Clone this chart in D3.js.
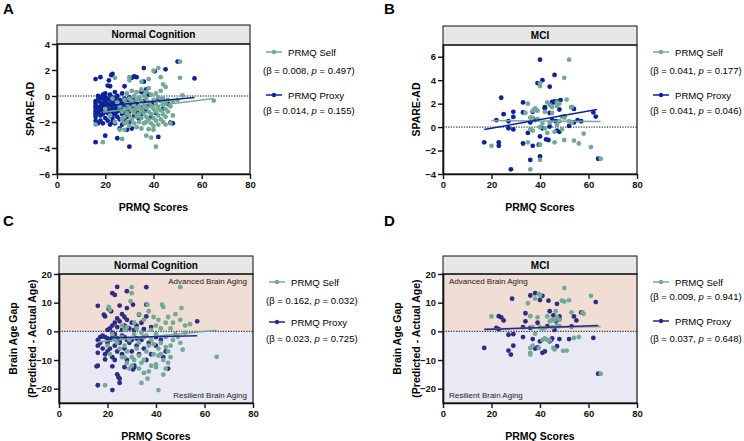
<!DOCTYPE html>
<html><head><meta charset="utf-8">
<script src="https://cdn.jsdelivr.net/npm/d3@7"></script>
<style>body{margin:0;background:#fff} text{font-family:"Liberation Sans",Arial,Helvetica,sans-serif}</style>
</head><body><svg id="c" width="744" height="441"></svg>
<script>
// ---------------- DATA ----------------
const xTicks = [0, 20, 40, 60, 80];
const yTicksA = [-6, -4, -2, 0, 2, 4];
const yTicksB = [-4, -2, 0, 2, 4, 6];
const yTicksGap = [-20, -10, 0, 10, 20];
const panelLetters = ["A", "B", "C", "D"];
const panelTitles = ["Normal Cognition", "MCI", "Normal Cognition", "MCI"];
const seriesNames = ["PRMQ Self", "PRMQ Proxy"];
const xTitle = "PRMQ Scores";
const yTitleSpare = ["SPARE-AD"];
const yTitleGap = ["Brain Age Gap", "(Predicted - Actual Age)"];
const zoneLabels = ["Advanced Brain Aging", "Resilient Brain Aging"];
const statsA = [["0.008", "0.497"], ["0.014", "0.155"]];
const statsB = [["0.041", "0.177"], ["0.041", "0.046"]];
const statsC = [["0.162", "0.032"], ["0.023", "0.725"]];
const statsD = [["0.009", "0.941"], ["0.037", "0.648"]];

const A_proxy = [[16,1.3],[18,1.45],[22.5,1.6],[23,1.7],[21.5,1.2],[21,0.8],[22,0.75],[20,0.2],[19,0.1],[17,0.0],[28,0.75],[31,1.4],[32,1.5],[33,1.45],[36,1.1],[36,2.15],[40.5,1.9],[45,2.05],[50,2.65],[57,1.35],[37,0.5],[35,0.3],[38,0.1],
[16,-0.4],[16,-0.6],[16,-0.8],[16,-1.0],[16,-1.2],[16,-1.4],[16,-1.6],[16,-1.9],[16,-3.55],
[17,-0.3],[17,-0.9],[17,-1.3],[17,-2.1],
[18,-0.1],[18,-0.5],[18,-0.8],[18,-1.1],[18,-1.5],[18,-1.9],
[19,-0.2],[19,-0.6],[19,-1.0],[19,-1.4],[19,-2.1],
[20,-0.1],[20,-0.4],[20,-0.8],[20,-1.2],[20,-1.7],[20,-3.05],
[21,-0.2],[21,-0.6],[21,-1.0],[21,-1.3],[21,-1.9],
[22,0.1],[22,-0.3],[22,-0.7],[22,-1.1],[22,-1.5],[22,-2.2],
[23,-0.1],[23,-0.5],[23,-0.9],[23,-1.3],[23,-1.7],[23,-2.0],
[24,0.3],[24,-0.2],[24,-0.6],[24,-1.0],[24,-1.4],[24,-2.1],
[25,0.0],[25,-0.4],[25,-0.8],[25,-1.2],[25,-1.6],[25,-3.25],
[26,-0.3],[26,-0.7],[26,-1.1],[26,-1.8],[26,-2.5],
[27,0.2],[27,-0.5],[27,-0.9],[27,-1.4],[27,-2.2],
[28,-0.2],[28,-0.8],[28,-1.3],[28,-1.9],
[29,-0.4],[29,-1.0],[29,-1.6],[29,-2.6],
[30,-0.1],[30,-0.7],[30,-1.2],[30,-2.0],[30,-3.9],
[31,-0.5],[31,-1.0],[31,-2.5],[32,-0.3],[32,-0.9],[32,-1.5],[33,-0.6],[33,-1.2],[34,-0.2],[34,-1.8],
[35,-0.9],[35,-1.4],[36,-0.4],[37,-1.1],[38,-0.7],[39,-1.6],[40,-0.5],[41,-1.3],[42,-3.15],[42,-0.2],[44,-1.0],[47,-2.05],[48,-2.1],[46,-0.6]];
const A_self = [[16,-2.2],[19,-3.55],[24,1.4],[27,-3.3],[26,-2.6],[28,-2.6],[30,1.45],[30,1.2],[35,1.1],[38,1.3],[42,2.15],[43,1.45],[40,1.95],[44,0.9],[45,0.7],[51,2.65],[51,1.4],[52,0.05],[65,-0.35],[37,-3.05],[39,-3.2],[41,-3.9],[38,-2.55],[40,-2.6],[47,-2.1],[44,-2.0],
[26,-0.8],[27,-1.2],[27,-1.8],[28,-0.3],[28,-1.0],[28,-1.6],[28,-2.1],[29,0.2],[29,-0.6],[29,-1.3],[29,-2.0],
[30,-0.2],[30,-0.9],[30,-1.5],[30,-2.3],[31,0.4],[31,-0.4],[31,-1.1],[31,-1.8],[32,0.0],[32,-0.7],[32,-1.3],[32,-2.1],
[33,0.3],[33,-0.3],[33,-1.0],[33,-1.6],[33,-2.4],[34,-0.1],[34,-0.8],[34,-1.4],[34,-2.0],
[35,0.5],[35,-0.4],[35,-1.1],[35,-1.7],[35,-2.5],[36,0.0],[36,-0.7],[36,-1.3],[36,-2.1],
[37,0.3],[37,-0.2],[37,-0.9],[37,-1.6],[37,-2.0],[38,-0.5],[38,-1.2],[38,-1.8],[38,0.6],
[39,0.1],[39,-0.8],[39,-1.4],[39,-2.1],[40,-0.3],[40,-1.0],[40,-1.7],[40,-2.3],
[41,0.2],[41,-0.6],[41,-1.2],[41,-1.9],[42,-0.1],[42,-0.9],[42,-1.5],[42,-2.2],
[43,0.4],[43,-0.4],[43,-1.1],[43,-1.8],[44,-0.2],[44,-0.7],[44,-1.4],
[45,-0.5],[45,-1.0],[45,-1.6],[45,-2.2],[46,-0.3],[46,-1.2],[47,-0.8],[48,-0.4],[48,-1.5],[50,-0.3],
[20,-1.0],[22,-1.5],[24,-2.0],[25,-0.5],[23,-0.2]];
const A_fitSelf = [[19,-1.25],[65,-0.2]];
const A_fitProxy = [[16,-0.83],[57,-0.12]];

const B_proxy = [[40,5.75],[41,4.0],[39,3.75],[46,4.45],[44,3.45],[24,2.5],[33,2.1],[37,1.3],[42,1.7],[29,1.3],[29,0.87],[25,1.1],[22,0.6],[27,0.5],[27,-0.1],[29,-0.2],[33,1.25],[17,-1.3],[23,-1.3],[23,-1.6],[33,-1.4],[35,-0.5],[37,-1.6],[39.5,-1.5],[40,-0.8],[36,-2.8],[40,-2.5],[28,-3.6],[42.5,-1.05],[43.5,-1.1],[46.5,0.5],[47.5,2.2],[45.5,2.1],[48.5,2.3],[44,1.2],[45,2.15],[52,0.1],[54,0.4],[55.5,0.6],[53,1.7],[54,1.55],[62,1.25],[63,0.9],[64,-2.7],[44,0.05],[47,-0.3],[48,-0.4],[45,0.6],[41,-0.1],[38,0.6],[36,0.4],[48,1.5],[50,0.9],[46,2.2],[42,1.6],[57,0.5]];
const B_self = [[52,5.75],[50,4.2],[40,3.5],[40,3.75],[35,2.0],[38,1.6],[37,1.4],[36,0.8],[43,2.1],[44,1.9],[47,1.8],[51,2.35],[53,1.7],[20,-1.6],[35,-1.3],[37,-0.3],[40,-1.5],[36,-3.6],[40,-2.8],[46,-1.3],[50,-1.1],[54,-1.15],[56,-1.4],[58,-0.55],[61,-1.7],[65,-2.7],[43,-0.5],[39,0.7],[42,1.3],[45,1.2],[48,0.5],[49,0.9],[46,-0.4],[41,0.3],[38,1.5],[39,1.4],[47,0.2],[44,0.4],[50,0.8],[52,0.5],[34,1.2],[48,2.0],[53,0.4],[47,2.1],[45,1.7],[42,-0.1],[36,-0.2],[40,0.0],[49,-0.2],[37,0.8]];
const B_fitSelf = [[20,0.56],[65,0.48]];
const B_fitProxy = [[17,-0.21],[63.5,1.5]];

const C_proxy = [[24,15.5],[36,15.4],[22,13.3],[23,12.7],[28,14],[30.5,9.3],[36,9.3],[16,8.9],[20.5,7.8],[21.5,7.0],[28,8.1],[18.5,5.8],[19,5.2],[33,5.8],[36,5.2],[57,3.5],[25,9],[26,6],[24,4.5],[25,3.5],[22,2],[23,3],[20,0.5],[21,1],[27,5],[27,2],[28,4],[29,1],[30,3],[31,0.5],[32,2],[34,3],[35,0.8],[38,1.5],[24,1.5],[26,0.5],[22,-0.5],[18,-1.5],[19,-2],[20,-2.5],[21,-3],[22,-2],[23,-1],[24,-2.5],[25,-3.5],[26,-1.5],[27,-2],[28,-3],[16,-3],[16,-5],[16,-7.5],[17,-2],[17,-4],[18,-6],[19,-8],[20,-4],[21,-6],[22,-9],[23,-5],[24,-7],[25,-4],[26,-8],[27,-6],[28,-10],[29,-4],[30,-7],[31,-12],[32,-5],[33,-8],[34,-3],[35,-6],[36,-10],[37,-4],[38,-8],[40,-5],[42,-3],[43,-9],[44,-7],[45,-13],[16,-18.8],[22,-20.5],[25,-18],[25,-16.5],[15.5,-12.2],[16,-12],[19,-9.8],[22,-12.2],[24,-15],[24.5,-16],[30.5,-13.3],[31,-12.5],[30,-3],[32,-2.5],[35,-2],[40,-2],[27,-12.5],[23,-10],[20,-7]];
const C_self = [[19,-18.8],[34,-18],[41,-20.5],[36.5,-16.5],[43,-15.1],[44,-13],[65,-8.9],[51,-6.4],[50.5,8.1],[50,4],[52,2],[54,2.5],[42.5,9.3],[43,8.5],[36.5,9.3],[20.5,8.5],[21,7.5],[30,13.3],[30,15.4],[50,15.4],[29.5,10.5],[33,6],[35,4],[37,7],[39,5],[40,2],[41,4],[44,3],[45,5],[46,1],[47,3],[48,6],[42,1],[31,3],[32,1],[26,2],[27,0.5],[28,1.5],[38,0.5],[26,-2],[27,-5],[28,-7],[29,-3],[30,-9],[31,-1],[32,-6],[33,-4],[34,-11],[35,-2],[36,-7],[37,-5],[38,-3],[39,-8],[40,-1],[41,-6],[42,-4],[43,-10],[44,-2],[45,-7],[46,-5],[47,-3],[48,-1],[49,-2],[38,-12],[40,-11.5],[35,-10],[33,-13],[30,-12],[28,-11],[26,-9],[25,-6],[24,-4],[23,-3],[22,-1],[21,-8],[20,-5],[36,-1.5],[34,-0.5],[39,-4.5],[42,-8],[44,-5.5],[46,-9],[37,-14],[29,-13],[31,-10],[33,-8.5],[35,-14.5],[27,-9],[40,-12.5],[41,-8.5],[45,-11],[50,-4],[52,-0.5]];
const C_fitSelf = [[16,-3.7],[65,0.35]];
const C_fitProxy = [[16,-2.3],[57,-1.5]];

const D_proxy = [[17,-5.8],[23,5.3],[24,4.9],[25,3.8],[22,1.2],[23,0.8],[28.5,11.4],[36,12.5],[38,13.3],[40,10.9],[41,12.4],[43.5,10.7],[47,9.6],[34,6.3],[34,3.5],[33,1.5],[44,7],[45.5,5.6],[48,5.2],[46.5,3.5],[54,5.2],[55,3.8],[57,6.6],[53,1.7],[63,10.2],[62,-2.3],[64,-14.8],[27,-1.2],[29,-1.0],[27,-6.7],[28,-8.1],[29,-5],[33,-2],[37,-2.7],[39,-5.6],[38,-6],[41,-7.5],[42,-7],[44,-3.5],[47,-5.2],[48,-2.7],[52,-2.7],[44.5,-3],[40,-3.5],[45,-2.5],[48,4.2],[43,1.8],[46,0.5],[36,1.2],[39,3]];
const D_self = [[20,5.2],[35,9.8],[39.5,13.1],[40,12.5],[38,11.4],[39,4.9],[50,15.1],[49,10.7],[50,10.4],[52,10.8],[61,12.4],[58,6.1],[57.5,6.5],[53,6.6],[46.5,7],[47,5],[36,-5.8],[36,-7.5],[36,-8.1],[37,-5],[39.5,-5.8],[41,-3],[45.5,-5.8],[46,-6.3],[49.5,-6.8],[51,-6.7],[54,-2.3],[56,-2],[42,-2.5],[43,-3],[44,-3.2],[65,-14.8],[40,1.5],[42,1.2],[45,1.5],[47,2],[48,4],[45,4],[44,3.5],[43,5.2],[37,1.5],[38,-0.8],[41,0.8],[36,5.3],[48,1.8],[46,3.8]];
const D_fitSelf = [[17,0.8],[65,1.7]];
const D_fitProxy = [[17,0.6],[64,2.0]];

// ---------------- LAYOUT / STYLE ----------------
const COL_SELF = "#74a997";
const COL_PROXY_AB = "#0c2399";
const COL_PROXY_CD = "#2f2a86";
const COL_LINE_CD = "#22298f";

const panels = [
  {letter:panelLetters[0], title:panelTitles[0], left:57, right:250, hTop:25, top:44, bottom:174, ydom:[-6,4], yticks:yTicksA,
   ytitle:yTitleSpare, self:A_self, proxy:A_proxy, fitS:A_fitSelf, fitP:A_fitProxy, stats:statsA, pcol:COL_PROXY_AB, lcol:COL_PROXY_AB,
   zones:false, zoneLeft:false, leg:[52,70,95,110], letterY:14},
  {letter:panelLetters[1], title:panelTitles[1], left:443, right:637, hTop:26, top:45, bottom:174, ydom:[-4,7], yticks:yTicksB,
   ytitle:yTitleSpare, self:B_self, proxy:B_proxy, fitS:B_fitSelf, fitP:B_fitProxy, stats:statsB, pcol:COL_PROXY_AB, lcol:COL_PROXY_AB,
   zones:false, zoneLeft:false, leg:[52,70,95,110], letterY:14},
  {letter:panelLetters[2], title:panelTitles[2], left:59, right:253, hTop:256, top:274, bottom:403, ydom:[-25,20], yticks:yTicksGap,
   ytitle:yTitleGap, self:C_self, proxy:C_proxy, fitS:C_fitSelf, fitP:C_fitProxy, stats:statsC, pcol:COL_PROXY_CD, lcol:COL_LINE_CD,
   zones:true, zoneLeft:false, leg:[282,300,322,338], letterY:226},
  {letter:panelLetters[3], title:panelTitles[3], left:443, right:637, hTop:256, top:274, bottom:403, ydom:[-25,20], yticks:yTicksGap,
   ytitle:yTitleGap, self:D_self, proxy:D_proxy, fitS:D_fitSelf, fitP:D_fitProxy, stats:statsD, pcol:COL_PROXY_CD, lcol:COL_LINE_CD,
   zones:true, zoneLeft:true, leg:[282,296,321,338], letterY:226}
];

const svg = d3.select("#c");

panels.forEach((p, i) => {
  const g = svg.append("g");
  const x = d3.scaleLinear().domain([0, 80]).range([p.left, p.right]);
  const y = d3.scaleLinear().domain(p.ydom).range([p.bottom, p.top]);

  // panel letter
  g.append("text").attr("x", p.left < 100 ? 3 : 384).attr("y", p.letterY)
    .attr("font-size", 15).attr("font-weight", "bold").text(p.letter);

  // zones
  if (p.zones) {
    g.append("rect").attr("x", x(0)).attr("y", y(p.ydom[1])).attr("width", x(80) - x(0)).attr("height", y(0) - y(p.ydom[1])).attr("fill", "#f0ddd3");
    g.append("rect").attr("x", x(0)).attr("y", y(0)).attr("width", x(80) - x(0)).attr("height", y(p.ydom[0]) - y(0)).attr("fill", "#e9e9f4");
    const zx = p.zoneLeft ? x(0) + 6 : x(80) - 6;
    const anchor = p.zoneLeft ? "start" : "end";
    g.append("text").attr("x", zx).attr("y", y(p.ydom[1]) + 10).attr("font-size", 8).attr("text-anchor", anchor).attr("fill", "#222").text(zoneLabels[0]);
    g.append("text").attr("x", zx).attr("y", y(p.ydom[0]) - 5).attr("font-size", 8).attr("text-anchor", anchor).attr("fill", "#222").text(zoneLabels[1]);
  }

  // header
  g.append("rect").attr("x", p.left).attr("y", p.hTop).attr("width", p.right - p.left).attr("height", p.top - p.hTop)
    .attr("fill", "#e7e7e7").attr("stroke", "#111").attr("stroke-width", 1);
  g.append("text").attr("x", (p.left + p.right) / 2).attr("y", (p.hTop + p.top) / 2 + 3.7)
    .attr("text-anchor", "middle").attr("font-size", 10).attr("font-weight", "bold").text(p.title);

  // zero line
  g.append("line").attr("x1", x(0)).attr("x2", x(80)).attr("y1", y(0)).attr("y2", y(0))
    .attr("stroke", "#111").attr("stroke-width", 1).attr("stroke-dasharray", "1.3,1.3");

  // points
  g.append("g").selectAll("circle").data(p.proxy).join("circle")
    .attr("cx", d => x(d[0])).attr("cy", d => y(d[1])).attr("r", 2.4).attr("fill", p.pcol);
  g.append("g").selectAll("circle").data(p.self).join("circle")
    .attr("cx", d => x(d[0])).attr("cy", d => y(d[1])).attr("r", 2.4).attr("fill", COL_SELF);

  // fit lines
  const line = d3.line().x(d => x(d[0])).y(d => y(d[1]));
  g.append("path").attr("d", line(p.fitS)).attr("fill", "none").attr("stroke", COL_SELF).attr("stroke-width", 1.5);
  g.append("path").attr("d", line(p.fitP)).attr("fill", "none").attr("stroke", p.lcol).attr("stroke-width", 1.5);

  // frame
  g.append("rect").attr("x", p.left).attr("y", p.top).attr("width", p.right - p.left).attr("height", p.bottom - p.top)
    .attr("fill", "none").attr("stroke", "#111").attr("stroke-width", 1.2);

  // axes
  const ax = g.append("g").attr("transform", `translate(0,${p.bottom})`)
    .call(d3.axisBottom(x).tickValues(xTicks).tickSize(5).tickSizeOuter(0).tickPadding(2.5));
  const ay = g.append("g").attr("transform", `translate(${p.left},0)`)
    .call(d3.axisLeft(y).tickValues(p.yticks).tickSize(5).tickSizeOuter(0).tickPadding(2));
  [ax, ay].forEach(a => {
    a.selectAll("path").attr("stroke", "#111").attr("stroke-width", 1.6);
    a.selectAll("line").attr("stroke", "#111").attr("stroke-width", 1.4);
    a.selectAll("text").attr("font-size", 9.5).attr("font-weight", "bold").attr("fill", "#111")
      .style("font-family", '"Liberation Sans",Arial,sans-serif');
  });

  // x title
  g.append("text").attr("x", (p.left + p.right) / 2).attr("y", p.bottom + 37)
    .attr("text-anchor", "middle").attr("font-size", 10.5).attr("font-weight", "bold").text(xTitle);

  // y title
  const cy = (p.top + p.bottom) / 2;
  const n = p.ytitle.length;
  p.ytitle.forEach((t, k) => {
    const tx = n === 1 ? p.left - 23 : p.left - 42 + k * 19;
    g.append("text").attr("transform", `translate(${tx},${cy}) rotate(-90)`)
      .attr("text-anchor", "middle").attr("font-size", 10.5).attr("font-weight", "bold").text(t);
  });

  // legend
  const lx = p.right + 15;
  [COL_SELF, p.lcol].forEach((c, k) => {
    const ly = p.leg[k * 2];
    g.append("line").attr("x1", lx + 1).attr("x2", lx + 17).attr("y1", ly).attr("y2", ly).attr("stroke", c).attr("stroke-width", 1.5);
    g.append("circle").attr("cx", lx + 9).attr("cy", ly).attr("r", 2.2).attr("fill", k === 0 ? COL_SELF : p.pcol);
    g.append("text").attr("x", lx + 23).attr("y", ly + 3.5).attr("font-size", 9.6).text(seriesNames[k]);
    const bt = g.append("text").attr("x", p.right + 13).attr("y", p.leg[k * 2 + 1] + 3.5).attr("font-size", 9.5);
    bt.append("tspan").text(`(β = ${p.stats[k][0]}, `);
    bt.append("tspan").attr("font-style", "italic").text("p");
    bt.append("tspan").text(` = ${p.stats[k][1]})`);
  });
});
</script></body></html>
